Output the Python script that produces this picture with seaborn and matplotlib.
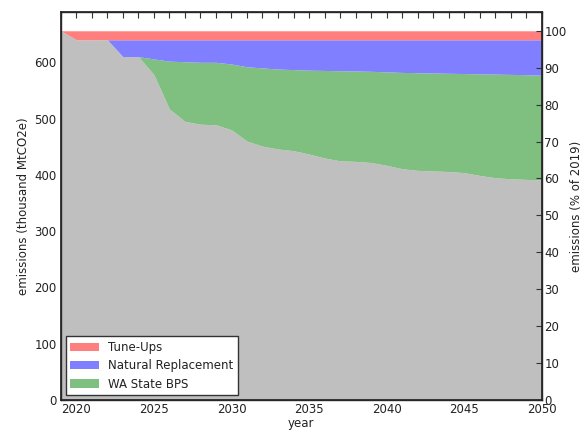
import numpy as np
import matplotlib
matplotlib.use("Agg")
import matplotlib.pyplot as plt
from matplotlib.ticker import MultipleLocator, FuncFormatter
import seaborn as sns

years = list(range(2019, 2051))
total = [656] * 32
after_tuneups = [656] + [640] * 31
after_natural = [656, 640, 640, 640, 610, 610, 606, 602, 601, 600, 600, 597,
                 592, 590, 588, 587, 586, 585.5, 585, 584.5, 584, 583, 582,
                 581.5, 581, 580.5, 580, 579.5, 579, 578.5, 578, 577]
after_bps = [656, 640, 640, 640, 610, 610, 578, 517, 495, 490, 489, 480,
             460, 451, 446, 443, 437, 430, 425, 424, 422, 417, 411,
             408, 407, 406, 404, 399, 395, 393, 392, 391]
colors = ["#7fbf7f", "#7f7fff", "#ff7f7f"]

sns.set_theme(style="white")
plt.rcParams["font.family"] = ["DejaVu Sans"]
plt.rcParams["font.size"] = 8.5
plt.rcParams["text.color"] = "#222222"
plt.rcParams["axes.labelcolor"] = "#222222"
plt.rcParams.update({
    "xtick.direction": "in", "ytick.direction": "in",
    "xtick.top": True, "xtick.bottom": True, "ytick.left": True,
    "xtick.major.size": 4, "ytick.major.size": 4,
    "xtick.major.width": 0.8, "ytick.major.width": 0.8,
    "xtick.color": "#333333", "ytick.color": "#333333",
    "xtick.labelcolor": "#222222", "ytick.labelcolor": "#222222",
    "xtick.labelsize": 8.5, "ytick.labelsize": 8.5,
})

remaining = np.array(after_bps)
bps = np.array(after_natural) - remaining
natural = np.array(after_tuneups) - np.array(after_natural)
tuneups = np.array(total) - np.array(after_tuneups)

fig = plt.figure(figsize=(5.85, 4.32), dpi=100)
ax = fig.add_axes([0.104, 0.074, 0.822, 0.8975])
polys = ax.stackplot(years, remaining, bps, natural, tuneups,
                     colors=["#bfbfbf"] + colors, linewidth=0)

ax2 = ax.twinx()
ax2.set_ylim(0, 105)
ax2.yaxis.set_major_locator(MultipleLocator(10))
ax2.tick_params(axis="y", direction="in", right=True, left=False, length=4,
                width=0.8, pad=2)
ax2.set_ylabel("emissions (% of 2019)", fontsize=8.5, labelpad=2)

ax.set_xlim(2019, 2050)
ax.set_ylim(0, total[0] * 1.05)
ax.xaxis.set_major_locator(MultipleLocator(1))
ax.xaxis.set_major_formatter(FuncFormatter(lambda v, p: f"{int(round(v))}" if round(v) % 5 == 0 else ""))
ax.yaxis.set_major_locator(MultipleLocator(100))
ax.tick_params(axis="x", which="major", top=True, bottom=True, pad=2)
ax.tick_params(axis="y", right=False, pad=3)
ax.set_xlabel("year", fontsize=8.5, labelpad=1)
ax.set_ylabel("emissions (thousand MtCO2e)", fontsize=8.5, labelpad=3)
for s in ax.spines.values():
    s.set_color("#333333")
    s.set_linewidth(1)

handles = [polys[3], polys[2], polys[1]]
leg = ax.legend(handles, ["Tune-Ups", "Natural Replacement", "WA State BPS"],
                loc="lower left", fancybox=False, framealpha=1,
                edgecolor="#333333", fontsize=8.5, borderaxespad=0.4,
                handlelength=2.4, labelspacing=0.45)
leg.get_frame().set_linewidth(1)

fig.savefig("out.png", dpi=100)
